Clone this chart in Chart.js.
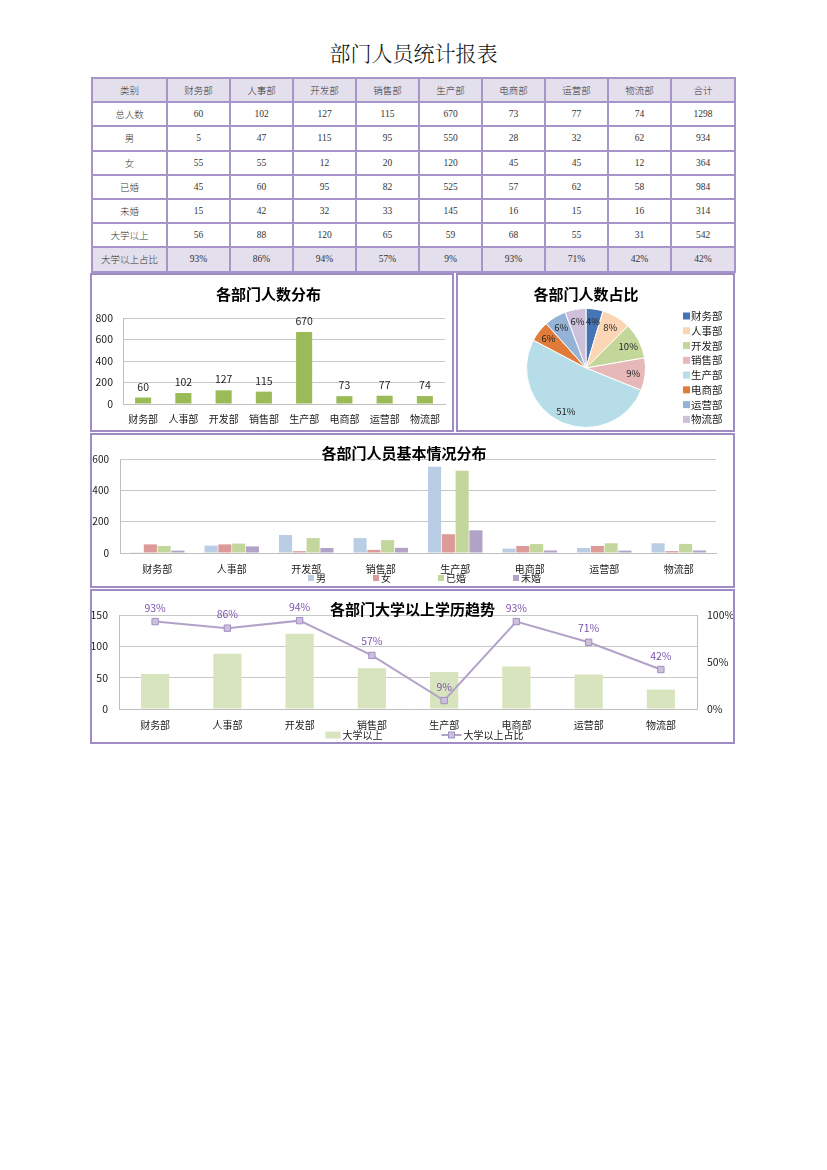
<!DOCTYPE html>
<html lang="zh-CN">
<head>
<meta charset="utf-8">
<title>部门人员统计报表</title>
<script src="https://cdn.jsdelivr.net/npm/chart.js@4.4.1/dist/chart.umd.min.js"></script>
<style>
  body { margin: 0; background: #fff; }
  #page { position: relative; width: 827px; height: 1170px; }
  h1 { position: absolute; left: 0; top: 37px; width: 827px; margin: 0; text-align: center;
       font: 300 21px "Noto Serif CJK SC", "Noto Sans CJK SC", serif; line-height: 30px; color: #111; }
  table { position: absolute; left: 91px; top: 77px; width: 643px; border-collapse: collapse; table-layout: fixed;
          border: 2px solid #8064a2; font: 300 9.5px "Liberation Serif", "Noto Sans CJK SC", serif; color: #333; }
  td { border: 2px solid #a794c9; text-align: center; padding: 0; height: 22.2px; }
  tr.shade td { background: #e4dfec; }
  .box { position: absolute; border: 2px solid #a08cc4; box-sizing: border-box; }
  .box div { position: absolute; left: 0; top: 0; width: 100%; height: 100%; }
</style>
</head>
<body>
<div id="page">
  <h1>部门人员统计报表</h1>
  <table id="tbl"></table>
  <div class="box" style="left:90px;top:273px;width:364px;height:159px"><div><canvas id="c1"></canvas></div></div>
  <div class="box" style="left:456px;top:273px;width:279px;height:159px"><div><canvas id="c2"></canvas></div></div>
  <div class="box" style="left:90px;top:433px;width:645px;height:155px"><div><canvas id="c3"></canvas></div></div>
  <div class="box" style="left:90px;top:589px;width:645px;height:155px"><div><canvas id="c4"></canvas></div></div>
</div>
<script>
// ---- data ----
const categories = ['财务部', '人事部', '开发部', '销售部', '生产部', '电商部', '运营部', '物流部'];
const totalCounts = [60, 102, 127, 115, 670, 73, 77, 74];
const maleCounts = [5, 47, 115, 95, 550, 28, 32, 62];
const femaleCounts = [55, 55, 12, 20, 120, 45, 45, 12];
const marriedCounts = [45, 60, 95, 82, 525, 57, 62, 58];
const singleCounts = [15, 42, 32, 33, 145, 16, 15, 16];
const collegeCounts = [56, 88, 120, 65, 59, 68, 55, 31];
const collegeRatio = [0.93, 0.86, 0.94, 0.57, 0.09, 0.93, 0.71, 0.42];
const sumColumn = ['1298', '934', '364', '984', '314', '542', '42%'];
const pieLabels = ['4%', '8%', '10%', '9%', '51%', '6%', '6%', '6%'];

const pieColors = ['#4575b4', '#fcd5b4', '#c4d79b', '#e6b8b7', '#b7dee8', '#e07b39', '#95b3d7', '#ccc0da'];

// ---- table ----
const rows = [
  ['总人数', totalCounts], ['男', maleCounts], ['女', femaleCounts], ['已婚', marriedCounts],
  ['未婚', singleCounts], ['大学以上', collegeCounts],
  ['大学以上占比', collegeRatio.map(v => Math.round(v * 100) + '%')]
];
let html = '<colgroup><col style="width:75px">' + '<col style="width:63px">'.repeat(8) + '<col style="width:64px"></colgroup>';
html += '<tr class="shade"><td>类别</td>' + categories.map(c => '<td>' + c + '</td>').join('') + '<td>合计</td></tr>';
rows.forEach((r, i) => {
  html += '<tr' + (i === rows.length - 1 ? ' class="shade"' : '') + '><td>' + r[0] + '</td>' +
    r[1].map(v => '<td>' + v + '</td>').join('') + '<td>' + sumColumn[i] + '</td></tr>';
});
document.getElementById('tbl').innerHTML = html;

// ---- charts ----
Chart.defaults.font.family = '"Noto Sans CJK SC", "Noto Sans", sans-serif';
Chart.defaults.color = '#1a1a1a';
Chart.defaults.animation = false;
Chart.defaults.plugins.legend.display = false;
Chart.defaults.plugins.tooltip.enabled = false;

const FONT = '"Noto Sans CJK SC", "Noto Sans", sans-serif';

function titleOpts(text, top, bottom) {
  return { display: true, text: text, color: '#000', font: { size: 15, weight: 'bold' }, padding: { top: top, bottom: bottom } };
}

// numbers over bars / points
function valueLabels(idx, fmt, color, offset) {
  return {
    id: 'valueLabels' + idx,
    afterDatasetsDraw(chart) {
      const ctx = chart.ctx;
      const ds = chart.data.datasets[idx];
      const meta = chart.getDatasetMeta(idx);
      ctx.save();
      ctx.font = '10.5px ' + FONT;
      ctx.fillStyle = color;
      ctx.textAlign = 'center';
      ctx.textBaseline = 'middle';
      meta.data.forEach((el, j) => ctx.fillText(fmt(ds.data[j]), el.x, el.y - offset));
      ctx.restore();
    }
  };
}

// legend in one row under the axis labels
function rowLegend(o) {
  return {
    id: 'rowLegend',
    afterDraw(chart) {
      const ctx = chart.ctx;
      ctx.save();
      ctx.font = '10px ' + FONT;
      const items = chart.data.datasets.map(ds => {
        const kw = ds.type === 'line' ? 20 : o.boxW;
        return { ds: ds, kw: kw, w: kw + o.keyGap + ctx.measureText(ds.label).width };
      });
      const total = items.reduce((a, it) => a + it.w, 0) + o.gap * (items.length - 1);
      let x = chart.width / 2 + o.shift - total / 2;
      const y = o.y;
      items.forEach(it => {
        const ds = it.ds;
        if (ds.type === 'line') {
          ctx.strokeStyle = ds.borderColor;
          ctx.lineWidth = 2;
          ctx.beginPath(); ctx.moveTo(x, y); ctx.lineTo(x + it.kw, y); ctx.stroke();
          ctx.fillStyle = ds.pointBackgroundColor;
          ctx.strokeStyle = ds.pointBorderColor;
          ctx.lineWidth = 1;
          ctx.fillRect(x + it.kw / 2 - 3, y - 3, 6, 6);
          ctx.strokeRect(x + it.kw / 2 - 3, y - 3, 6, 6);
        } else {
          ctx.fillStyle = ds.backgroundColor;
          ctx.fillRect(x, y - o.boxH / 2, it.kw, o.boxH);
        }
        ctx.fillStyle = '#1a1a1a';
        ctx.textBaseline = 'middle';
        ctx.fillText(ds.label, x + it.kw + o.keyGap, y);
        x += it.w + o.gap;
      });
      ctx.restore();
    }
  };
}

const gridColor = '#c8c8c8';
const axisColor = '#bfbfbf';

// 1. 各部门人数分布
new Chart(document.getElementById('c1'), {
  type: 'bar',
  data: {
    labels: categories,
    datasets: [{ label: '总人数', data: totalCounts, backgroundColor: '#9bbb59', barPercentage: 0.4, categoryPercentage: 1 }]
  },
  options: {
    responsive: true, maintainAspectRatio: false,
    layout: { padding: { left: 0, right: 7, top: 0, bottom: 0 } },
    plugins: { title: titleOpts('各部门人数分布', 10, 15) },
    scales: {
      x: { grid: { display: false, drawTicks: false }, border: { color: axisColor },
           ticks: { font: { size: 10 }, padding: 9, autoSkip: false, maxRotation: 0 },
           afterFit: s => { s.height = 26; } },
      y: { min: 0, max: 800, grid: { color: gridColor, drawTicks: false }, border: { color: axisColor },
           ticks: { stepSize: 200, font: { size: 10.5 }, padding: 10 },
           afterFit: s => { s.width = 31; } }
    }
  },
  plugins: [valueLabels(0, v => String(v), '#262626', 11)]
});

// 2. 各部门人数占比
new Chart(document.getElementById('c2'), {
  type: 'pie',
  data: {
    labels: categories,
    datasets: [{ data: totalCounts, backgroundColor: pieColors, borderColor: '#fff', borderWidth: 1 }]
  },
  options: {
    responsive: true, maintainAspectRatio: false,
    layout: { padding: { left: 8, right: 27, top: 0, bottom: 2 } },
    plugins: { title: titleOpts('各部门人数占比', 10, 5) }
  },
  plugins: [{
    id: 'pieText',
    afterDatasetsDraw(chart) {
      const ctx = chart.ctx;
      ctx.save();
      ctx.font = '9.5px ' + FONT;
      ctx.fillStyle = '#262626';
      ctx.textAlign = 'center';
      ctx.textBaseline = 'middle';
      chart.getDatasetMeta(0).data.forEach((arc, i) => {
        const a = (arc.startAngle + arc.endAngle) / 2;
        const r = arc.outerRadius * 0.8;
        ctx.fillText(pieLabels[i], arc.x + Math.cos(a) * r, arc.y + Math.sin(a) * r);
      });
      // legend column
      ctx.font = '10.5px ' + FONT;
      ctx.textAlign = 'left';
      chart.data.labels.forEach((lab, i) => {
        const y = 41 + i * 14.77;
        ctx.fillStyle = pieColors[i];
        ctx.fillRect(225, y - 3.5, 7, 7);
        ctx.fillStyle = '#1a1a1a';
        ctx.fillText(lab, 233, y);
      });
      ctx.restore();
    }
  }]
});

// 3. 各部门人员基本情况分布
new Chart(document.getElementById('c3'), {
  type: 'bar',
  data: {
    labels: categories,
    datasets: [
      { label: '男', data: maleCounts, backgroundColor: '#b9cde5' },
      { label: '女', data: femaleCounts, backgroundColor: '#dc9a98' },
      { label: '已婚', data: marriedCounts, backgroundColor: '#c3d69b' },
      { label: '未婚', data: singleCounts, backgroundColor: '#b3a2c7' }
    ]
  },
  options: {
    responsive: true, maintainAspectRatio: false,
    datasets: { bar: { categoryPercentage: 0.74, barPercentage: 0.95 } },
    layout: { padding: { left: 0, right: 17, top: 0, bottom: 0 } },
    plugins: { title: titleOpts('各部门人员基本情况分布', 9, -3) },
    scales: {
      x: { grid: { display: false, drawTicks: false }, border: { color: axisColor },
           ticks: { font: { size: 10 }, padding: 10, autoSkip: false, maxRotation: 0 },
           afterFit: s => { s.height = 33; } },
      y: { min: 0, max: 600, grid: { color: gridColor, drawTicks: false }, border: { color: axisColor },
           ticks: { stepSize: 200, font: { size: 10 }, padding: 11 },
           afterFit: s => { s.width = 28; } }
    }
  },
  plugins: [rowLegend({ y: 143, shift: 12, gap: 47, boxW: 6, boxH: 6, keyGap: 2 })]
});

// 4. 各部门大学以上学历趋势
new Chart(document.getElementById('c4'), {
  data: {
    labels: categories,
    datasets: [
      { type: 'bar', label: '大学以上', data: collegeCounts, backgroundColor: '#d7e4bd', yAxisID: 'y',
        barPercentage: 0.39, categoryPercentage: 1, order: 1 },
      { type: 'line', label: '大学以上占比', data: collegeRatio, yAxisID: 'y2', borderColor: '#b3a2c7', borderWidth: 2,
        pointStyle: 'rect', pointRadius: 4.5, pointBackgroundColor: '#ccc1da', pointBorderColor: '#a28fc4',
        pointBorderWidth: 1, order: 0 }
    ]
  },
  options: {
    responsive: true, maintainAspectRatio: false,
    layout: { padding: { left: 0, right: 0, top: 0, bottom: 0 } },
    plugins: { title: titleOpts('各部门大学以上学历趋势', 9, -3) },
    scales: {
      x: { grid: { display: false, drawTicks: false }, border: { color: axisColor },
           ticks: { font: { size: 10 }, padding: 10, autoSkip: false, maxRotation: 0 },
           afterFit: s => { s.height = 33; } },
      y: { position: 'left', min: 0, max: 150, grid: { color: gridColor, drawTicks: false }, border: { color: axisColor },
           ticks: { stepSize: 50, font: { size: 10.5 }, padding: 11 },
           afterFit: s => { s.width = 27; } },
      y2: { position: 'right', min: 0, max: 1, grid: { display: false, drawTicks: false }, border: { color: axisColor },
            ticks: { stepSize: 0.5, font: { size: 10.5 }, padding: 10, callback: v => Math.round(v * 100) + '%' },
            afterFit: s => { s.width = 36; } }
    }
  },
  plugins: [valueLabels(1, v => Math.round(v * 100) + '%', '#7b52ae', 14),
            rowLegend({ y: 144, shift: 12, gap: 59, boxW: 15, boxH: 7, keyGap: 2 })]
});
</script>
</body>
</html>
